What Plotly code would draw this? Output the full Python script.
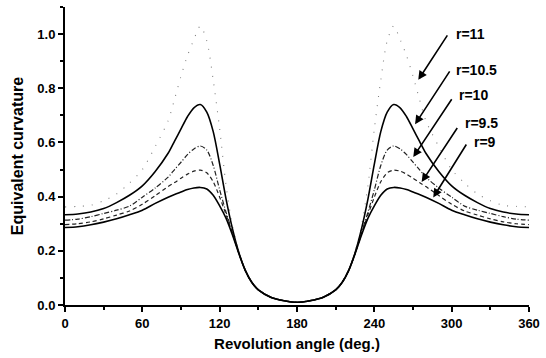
import plotly.graph_objects as go

# Revolution angle (deg.)
angles = [0, 10, 20, 30, 40, 50, 60, 70, 80, 85, 90, 95, 100, 105, 110, 115, 120, 125, 130,
          135, 140, 145, 150, 160, 170, 180, 190, 200, 210, 215, 220, 225, 230, 235, 240,
          245, 250, 255, 260, 265, 270, 275, 280, 290, 300, 310, 320, 330, 340, 350, 360]

# Equivalent curvature for each r
curv_r9 = [0.286, 0.289, 0.296, 0.306, 0.318, 0.333, 0.350, 0.375, 0.398, 0.408, 0.417, 0.426, 0.432,
           0.434, 0.428, 0.405, 0.366, 0.320, 0.258, 0.188, 0.126, 0.083, 0.056, 0.028, 0.016, 0.010,
           0.016, 0.028, 0.056, 0.083, 0.126, 0.188, 0.258, 0.320, 0.366, 0.405, 0.428, 0.434, 0.432,
           0.426, 0.417, 0.408, 0.398, 0.375, 0.350, 0.333, 0.318, 0.306, 0.296, 0.289, 0.286]
curv_r95 = [0.297, 0.300, 0.307, 0.318, 0.332, 0.347, 0.372, 0.404, 0.437, 0.452, 0.468, 0.483, 0.494,
            0.498, 0.488, 0.455, 0.398, 0.333, 0.262, 0.189, 0.126, 0.083, 0.056, 0.028, 0.016, 0.010,
            0.016, 0.028, 0.056, 0.083, 0.126, 0.189, 0.262, 0.333, 0.398, 0.455, 0.488, 0.498, 0.494,
            0.483, 0.468, 0.452, 0.437, 0.404, 0.372, 0.347, 0.332, 0.318, 0.307, 0.300, 0.297]
curv_r10 = [0.313, 0.317, 0.326, 0.338, 0.350, 0.365, 0.398, 0.432, 0.472, 0.500, 0.527, 0.555, 0.576,
            0.587, 0.572, 0.515, 0.425, 0.342, 0.266, 0.190, 0.127, 0.083, 0.056, 0.028, 0.016, 0.010,
            0.016, 0.028, 0.056, 0.083, 0.127, 0.190, 0.266, 0.342, 0.425, 0.515, 0.572, 0.587, 0.576,
            0.555, 0.527, 0.500, 0.472, 0.432, 0.398, 0.365, 0.350, 0.338, 0.326, 0.317, 0.313]
curv_r105 = [0.333, 0.336, 0.343, 0.356, 0.378, 0.405, 0.440, 0.493, 0.560, 0.605, 0.650, 0.695, 0.728,
             0.740, 0.712, 0.640, 0.520, 0.390, 0.280, 0.192, 0.127, 0.083, 0.056, 0.028, 0.016, 0.010,
             0.016, 0.028, 0.056, 0.083, 0.127, 0.192, 0.280, 0.390, 0.520, 0.640, 0.712, 0.740, 0.728,
             0.695, 0.650, 0.605, 0.560, 0.493, 0.440, 0.405, 0.378, 0.356, 0.343, 0.336, 0.333]
curv_r11 = [0.362, 0.364, 0.368, 0.385, 0.410, 0.450, 0.500, 0.585, 0.680, 0.760, 0.845, 0.920, 0.980,
            1.030, 0.975, 0.830, 0.650, 0.440, 0.290, 0.196, 0.128, 0.083, 0.056, 0.028, 0.016, 0.010,
            0.016, 0.028, 0.056, 0.083, 0.128, 0.196, 0.290, 0.440, 0.650, 0.830, 0.975, 1.030, 0.980,
            0.920, 0.845, 0.760, 0.680, 0.585, 0.500, 0.450, 0.410, 0.385, 0.368, 0.364, 0.362]

labels = ["r=11", "r=10.5", "r=10", "r=9.5", "r=9"]
# arrow tails / heads and label anchors (data coordinates)
arrow_tail_x = [297.4, 299.2, 300.8, 305.1, 312.1]
arrow_tail_y = [1.001, 0.868, 0.765, 0.659, 0.598]
arrow_head_x = [274.1, 271.6, 270.2, 276.7, 285.7]
arrow_head_y = [0.831, 0.667, 0.546, 0.454, 0.397]
label_x = [301.8, 301.8, 304.4, 308.6, 315.5]
label_y = [1.001, 0.869, 0.777, 0.670, 0.600]

x_ticks = [0, 60, 120, 180, 240, 300, 360]
y_ticks = [0.0, 0.2, 0.4, 0.6, 0.8, 1.0]

series = [
    (curv_r11, dict(color="#808080", width=1.1, dash="1px,8px")),
    (curv_r105, dict(color="black", width=1.6, dash="solid")),
    (curv_r10, dict(color="#222222", width=1.2, dash="5px,2px,1px,2px")),
    (curv_r95, dict(color="#222222", width=1.2, dash="4px,3px")),
    (curv_r9, dict(color="black", width=1.6, dash="solid")),
]

fig = go.Figure()
for vals, ln in series:
    fig.add_trace(go.Scatter(x=angles, y=vals, mode="lines",
                             line=dict(shape="spline", smoothing=0.8, **ln),
                             showlegend=False))

font_family = "Liberation Sans, Arial, sans-serif"
for i, lab in enumerate(labels):
    fig.add_annotation(x=arrow_head_x[i], y=arrow_head_y[i], ax=arrow_tail_x[i], ay=arrow_tail_y[i],
                       xref="x", yref="y", axref="x", ayref="y", text="", showarrow=True,
                       arrowhead=2, arrowsize=1.1, arrowwidth=1.6, arrowcolor="black")
    fig.add_annotation(x=label_x[i], y=label_y[i], xref="x", yref="y", text=lab, showarrow=False,
                       xanchor="left", yanchor="middle",
                       font=dict(family=font_family, size=14, color="black", weight="bold"))

axis_common = dict(showline=True, linecolor="black", linewidth=2, ticks="outside", ticklen=5,
                   tickwidth=1.5, tickcolor="black", showgrid=False, zeroline=False,
                   tickfont=dict(family=font_family, size=13, color="black", weight="bold"))

fig.update_xaxes(range=[0, 360], tickvals=x_ticks, ticktext=[str(v) for v in x_ticks],
                 minor=dict(dtick=30, ticks="outside", ticklen=3, tickwidth=1.5, tickcolor="black"),
                 title=dict(text="Revolution angle (deg.)", standoff=9,
                            font=dict(family=font_family, size=15, color="black", weight="bold")),
                 **axis_common)
fig.update_yaxes(range=[0, 1.1], tickvals=y_ticks, ticktext=["%.1f" % v for v in y_ticks],
                 minor=dict(dtick=0.1, ticks="outside", ticklen=3, tickwidth=1.5, tickcolor="black"),
                 title=dict(text="Equivalent curvature", standoff=10,
                            font=dict(family=font_family, size=16, color="black", weight="bold")),
                 **axis_common)

fig.update_layout(width=546, height=358, margin=dict(l=65, r=17, t=7, b=53),
                  paper_bgcolor="white", plot_bgcolor="white")

fig.write_html("out.html", config={"displayModeBar": False},
               post_script="document.body.style.margin='0';document.body.style.padding='0';")
